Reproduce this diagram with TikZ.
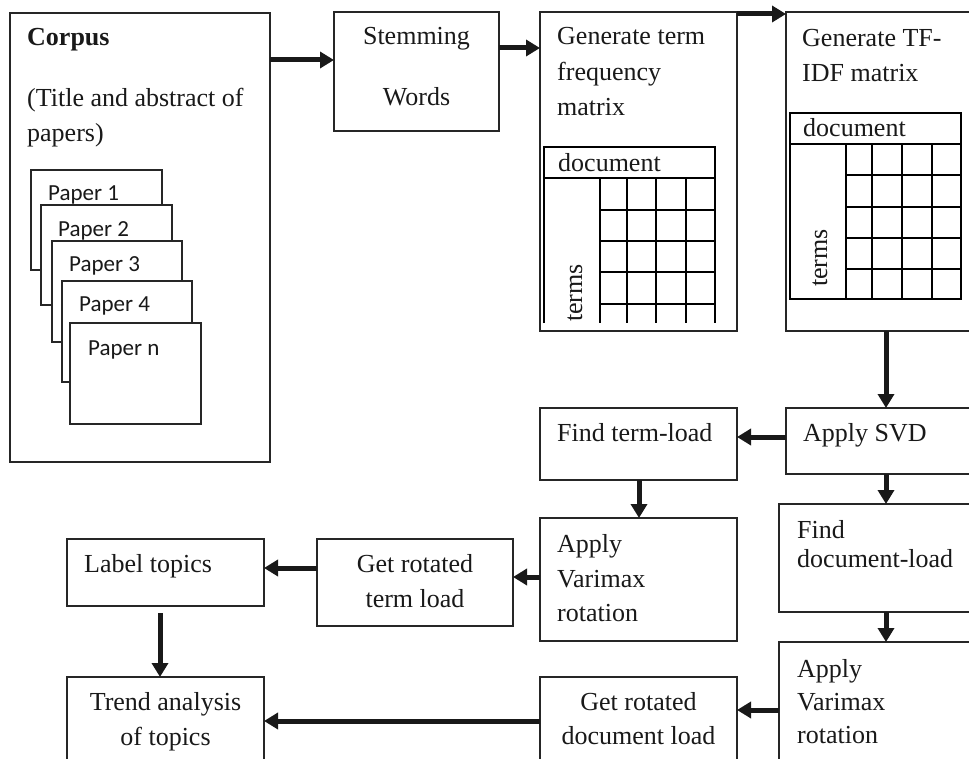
\documentclass[tikz,border=0pt]{standalone}
\usepackage{fontspec}
\setmainfont{Liberation Serif}
\newfontfamily\paperfont{Carlito}
\usetikzlibrary{arrows.meta}
\tikzset{
 box/.style={draw=black!85, line width=1.3pt, fill=white, inner sep=0pt, outer sep=0pt, anchor=north west},
 txt/.style={font=\fontsize{26}{30}\selectfont, text=black!90, inner sep=0pt, anchor=base west},
 ctxt/.style={txt, anchor=base},
 ptxt/.style={font=\paperfont\fontsize{23}{27}\selectfont, text=black!90, inner sep=0pt, anchor=base west},
 arr/.style={line width=5pt, draw=black!90, -{Triangle[length=14pt,width=16pt]}},
 gridline/.style={line width=2.2pt, draw=black},
}
\begin{document}
\begin{tikzpicture}[x=1pt,y=-1pt]
\useasboundingbox (0,0) rectangle (969,759);
\clip (0,0) rectangle (969,759);
% boxes
\node[box, minimum width=260pt, minimum height=449pt] (corpus) at (10,13) {};
\node[box, minimum width=165pt, minimum height=119pt] (stem) at (334,12) {};
\node[box, minimum width=197pt, minimum height=319pt] (gentf) at (540,12) {};
\node[box, minimum width=200pt, minimum height=319pt] (tfidf) at (786,12) {};
\node[box, minimum width=200pt, minimum height=66pt] (svd) at (786,408) {};
\node[box, minimum width=197pt, minimum height=72pt] (fterm) at (540,408) {};
\node[box, minimum width=197pt, minimum height=123pt] (varl) at (540,518) {};
\node[box, minimum width=200pt, minimum height=108pt] (fdoc) at (779,504) {};
\node[box, minimum width=200pt, minimum height=130pt] (varr) at (779,642) {};
\node[box, minimum width=197pt, minimum height=100pt] (getdoc) at (540,677) {};
\node[box, minimum width=196pt, minimum height=87pt] (getterm) at (317,539) {};
\node[box, minimum width=197pt, minimum height=67pt] (label) at (67,539) {};
\node[box, minimum width=197pt, minimum height=100pt] (trend) at (67,677) {};
% papers
\node[box, minimum width=131pt, minimum height=100pt] (p1) at (31,170) {};
\node[ptxt] (p1t) at (48,201) {Paper 1};
\node[box, minimum width=131pt, minimum height=100pt] (p2) at (41,205) {};
\node[ptxt] (p2t) at (58,237) {Paper 2};
\node[box, minimum width=130pt, minimum height=101pt] (p3) at (52,241) {};
\node[ptxt] (p3t) at (69,272) {Paper 3};
\node[box, minimum width=130pt, minimum height=101pt] (p4) at (62,281) {};
\node[ptxt] (p4t) at (79,312) {Paper 4};
\node[box, minimum width=131pt, minimum height=101pt] (pn) at (70,323) {};
\node[ptxt] (pnt) at (88,355) {Paper n};
% texts
\node[txt, font=\fontsize{26}{30}\selectfont\bfseries] (c1) at (27,46) {Corpus};
\node[txt] (c2) at (27,107) {(Title and abstract of};
\node[txt] (c3) at (27,142) {papers)};
\node[ctxt] (s1) at (416.5,45) {Stemming};
\node[ctxt] (s2) at (416.5,106) {Words};
\node[txt] (g1) at (557,45) {Generate term};
\node[txt] (g2) at (557,81) {frequency};
\node[txt] (g3) at (557,116) {matrix};
\node[txt] (t1) at (802,47) {Generate TF-};
\node[txt] (t2) at (802,82) {IDF matrix};
\node[txt] (sv) at (803,441) {Apply SVD};
\node[txt] (ft) at (557,441) {Find term-load};
\node[txt] (vl1) at (557,552) {Apply};
\node[txt] (vl2) at (557,587) {Varimax};
\node[txt] (vl3) at (557,621) {rotation};
\node[txt] (fd1) at (797,538) {Find};
\node[txt] (fd2) at (797,567) {document-load};
\node[txt] (vr1) at (797,677) {Apply};
\node[txt] (vr2) at (797,710) {Varimax};
\node[txt] (vr3) at (797,743) {rotation};
\node[ctxt] (gd1) at (638.5,710) {Get rotated};
\node[ctxt] (gd2) at (638.5,744) {document load};
\node[ctxt] (gt1) at (415,572) {Get rotated};
\node[ctxt] (gt2) at (415,607) {term load};
\node[txt] (lt) at (84,572) {Label topics};
\node[ctxt] (tr1) at (165.5,710) {Trend analysis};
\node[ctxt] (tr2) at (165.5,745) {of topics};
% term frequency matrix
\draw[gridline] (544,323) -- (544,147) -- (715,147) -- (715,323);
\draw[gridline] (544,178) -- (715,178);
\foreach \cx in {600,627,656,686} \draw[gridline] (\cx,178) -- (\cx,323);
\foreach \ry in {210,241,272,304} \draw[gridline] (600,\ry) -- (715,\ry);
\node[txt] (d1) at (558,172) {document};
\node[txt, rotate=90] (tm1) at (582,322) {terms};
% tf-idf matrix
\draw[gridline] (790,113) rectangle (961,299);
\draw[gridline] (790,144) -- (961,144);
\foreach \cx in {846,872,902,932} \draw[gridline] (\cx,144) -- (\cx,299);
\foreach \ry in {175,207,238,269} \draw[gridline] (846,\ry) -- (961,\ry);
\node[txt] (d2) at (803,137) {document};
\node[txt, rotate=90] (tm2) at (827,287) {terms};
% arrows
\draw[arr] (corpus.east |- 0,60) -- (stem.west |- 0,60);
\draw[arr] (stem.east |- 0,48) -- (gentf.west |- 0,48);
\draw[arr] (gentf.east |- 0,14) -- (tfidf.west |- 0,14);
\draw[arr] (tfidf.south -| 886,0) -- (svd.north -| 886,0);
\draw[arr] (svd.west |- 0,437) -- (fterm.east |- 0,437);
\draw[arr] (svd.south -| 886,0) -- (fdoc.north -| 886,0);
\draw[arr] (fdoc.south -| 886,0) -- (varr.north -| 886,0);
\draw[arr] (fterm.south -| 639,0) -- (varl.north -| 639,0);
\draw[arr] (varl.west |- 0,577) -- (getterm.east |- 0,577);
\draw[arr] (getterm.west |- 0,568) -- (label.east |- 0,568);
\draw[arr, shorten <=7pt] (label.south -| 160,0) -- (trend.north -| 160,0);
\draw[arr] (varr.west |- 0,710) -- (getdoc.east |- 0,710);
\draw[arr] (getdoc.west |- 0,721) -- (trend.east |- 0,721);
\end{tikzpicture}
\end{document}
